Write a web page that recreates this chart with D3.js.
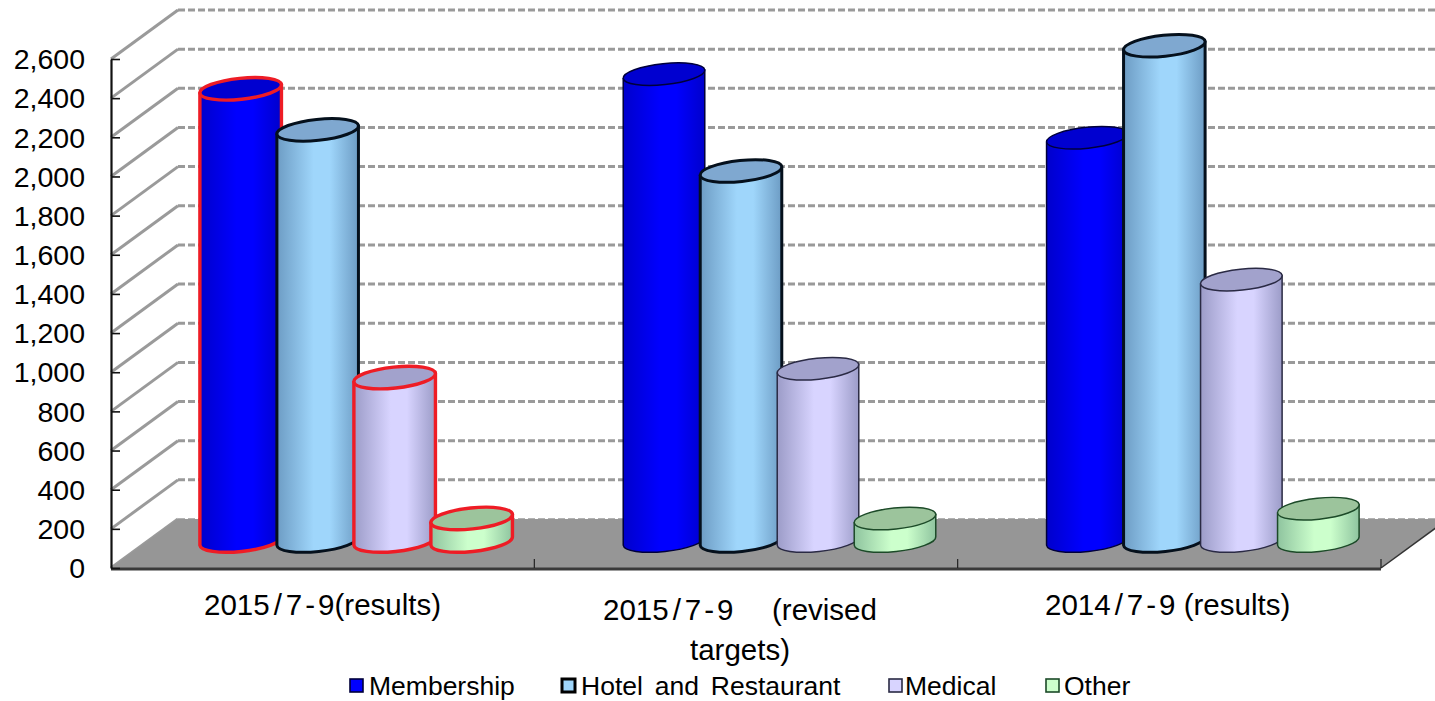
<!DOCTYPE html>
<html>
<head>
<meta charset="utf-8">
<script src="https://cdn.jsdelivr.net/npm/d3@7"></script>
<style>
html,body{margin:0;padding:0;background:#fff;overflow:hidden}
svg{display:block}
text{font-family:"Liberation Sans",Arial,sans-serif;fill:#000}
</style>
</head>
<body>
<div id="chart"></div>
<script>
// Sales by segment, three periods
const categories = ["2015/7-9(results)", "2015/7-9 (revised targets)", "2014/7-9 (results)"];
const seriesNames = ["Membership", "Hotel and Restaurant", "Medical", "Other"];
const membership = [2310, 2385, 2060];
const hotel = [2100, 1890, 2530];
const medical = [835, 880, 1335];
const other = [115, 115, 165];
const yTicks = d3.range(0, 2601, 200);

const seriesValues = [membership, hotel, medical, other];
const centreLight = ["#0000ff", "#9fd6fb", "#d8d4ff", "#ccffcc"];
const edgeDark = ["#0000cc", "#6d9cc4", "#9c9cc8", "#8fc49f"];
const topFill = ["#0000d0", "#7fa8d0", "#a2a2cc", "#9cc49c"];
const outline = ["#00003a", "#05101c", "#2a2a44", "#1c4a28"];
const outlineWidth = [1.5, 3, 1.5, 1.5];
const legendX = [350, 562, 889, 1046];
const legendTextX = [369, 581, 905, 1064];

const W = 1435, H = 701;
const x0 = 111, x1 = 1381, yBase = 568, yTop = 59;
const depthX = 67, depthY = 49;

const svg = d3.select("#chart").append("svg").attr("width", W).attr("height", H);
const y = d3.scaleLinear().domain([0, 2600]).range([yBase, yTop]);
const xGroup = d3.scaleBand().domain(categories).range([x0, x1]);
const xInner = d3.scaleBand().domain(seriesNames).range([-154, 154]);

// Horizontal shading that gives each cylinder its rounded look
const defs = svg.append("defs");
seriesNames.forEach((s, i) => {
  const g = defs.append("linearGradient").attr("id", "cyl" + i);
  g.append("stop").attr("offset", "0%").attr("stop-color", edgeDark[i]);
  g.append("stop").attr("offset", "45%").attr("stop-color", centreLight[i]);
  g.append("stop").attr("offset", "65%").attr("stop-color", centreLight[i]);
  g.append("stop").attr("offset", "100%").attr("stop-color", edgeDark[i]);
});

// Back wall gridlines and the slanted lines on the side wall
const wall = svg.append("g");
yTicks.forEach(t => {
  wall.append("line")
    .attr("x1", x0 + depthX).attr("x2", W)
    .attr("y1", y(t) - depthY).attr("y2", y(t) - depthY)
    .attr("stroke", "#9a9a9a").attr("stroke-width", t === 0 ? 1.5 : 3)
    .attr("stroke-dasharray", "7 3");
  wall.append("line")
    .attr("x1", x0).attr("x2", x0 + depthX)
    .attr("y1", y(t)).attr("y2", y(t) - depthY)
    .attr("stroke", "#9a9a9a").attr("stroke-width", 3);
});

// Floor
svg.append("polygon")
  .attr("points", [[x0, yBase], [x0 + depthX, yBase - depthY], [x1 + depthX, yBase - depthY], [x1, yBase]].join(" "))
  .attr("fill", "#969696");
svg.append("line")
  .attr("x1", x1).attr("y1", yBase).attr("x2", x1 + depthX).attr("y2", yBase - depthY)
  .attr("stroke", "#333").attr("stroke-width", 1.5);
svg.append("line")
  .attr("x1", x0).attr("y1", yBase + 1).attr("x2", x1).attr("y2", yBase + 1)
  .attr("stroke", "#3a3a3a").attr("stroke-width", 3);

// Category separators along the front edge
xGroup.domain().forEach(c => {
  const tx = xGroup(c) + xGroup.bandwidth();
  svg.append("line")
    .attr("x1", tx).attr("x2", tx).attr("y1", yBase).attr("y2", yBase - 9)
    .attr("stroke", "#222").attr("stroke-width", 1.2);
});

// Value axis
const yAxis = d3.axisLeft(y).tickValues(yTicks).tickFormat(d3.format(","))
  .tickSizeInner(-9).tickSizeOuter(0).tickPadding(26);
const axisG = svg.append("g").attr("transform", `translate(${x0},0)`).call(yAxis);
axisG.selectAll("path.domain").attr("stroke", "#111").attr("stroke-width", 2.2);
axisG.selectAll(".tick line").attr("stroke", "#111").attr("stroke-width", 1.6);
axisG.selectAll("text").attr("font-size", 28.5).attr("font-family", '"Liberation Sans",Arial,sans-serif').attr("dy", "0.34em");

// Cylinders: radii and tilt of the elliptical caps
const rx = 41, ry = 10.5, tilt = 6;
const rad = tilt * Math.PI / 180;
const ex = rx * Math.cos(rad), ey = rx * Math.sin(rad);
const floorLift = 27;

categories.forEach((c, ci) => {
  const centre = xGroup(c) + xGroup.bandwidth() / 2 + depthX / 2;
  seriesNames.forEach((s, si) => {
    const v = seriesValues[si][ci];
    const cx = centre + xInner(s) + xInner.bandwidth() / 2;
    const yb = y(0) - floorLift;
    const yt = y(v) - floorLift;
    // the first period's Membership, Medical and Other carry a red highlight
    const hot = ci === 0 && si !== 1;
    const stroke = hot ? "#ee1c25" : outline[si];
    const sw = hot ? 3.4 : outlineWidth[si];
    const g = svg.append("g");
    const body = `M${cx - ex},${yt + ey}L${cx - ex},${yb + ey}`
      + `A${rx},${ry} ${-tilt} 0 0 ${cx + ex},${yb - ey}`
      + `L${cx + ex},${yt - ey}Z`;
    g.append("path").attr("d", body).attr("fill", `url(#cyl${si})`)
      .attr("stroke", stroke).attr("stroke-width", sw).attr("stroke-linejoin", "round");
    g.append("ellipse")
      .attr("cx", cx).attr("cy", yt).attr("rx", rx).attr("ry", ry)
      .attr("transform", `rotate(${-tilt} ${cx} ${yt})`)
      .attr("fill", topFill[si]).attr("stroke", stroke).attr("stroke-width", sw);
  });
});

// Category labels: the date is set loosely around its slash and hyphen
const catFont = 29.5;
function dateLabel(x, yPos, year, rest) {
  const t = svg.append("text").attr("x", x).attr("y", yPos).attr("font-size", catFont);
  [[year, 0], ["/", 4], ["7", 4], ["-", 3], [rest, 3]].forEach(([s, dx]) => {
    t.append("tspan").attr("dx", dx).text(s);
  });
}
dateLabel(204, 615, "2015", "9(results)");
dateLabel(603, 620, "2015", "9");
svg.append("text").attr("x", 772).attr("y", 620).attr("font-size", catFont).text("(revised");
svg.append("text").attr("x", 690).attr("y", 660).attr("font-size", catFont).text("targets)");
dateLabel(1045, 615, "2014", "9 (results)");

// Legend
seriesNames.forEach((s, i) => {
  svg.append("rect").attr("x", legendX[i]).attr("y", 679).attr("width", 13).attr("height", 13)
    .attr("fill", centreLight[i])
    .attr("stroke", i === 1 ? "#000" : outline[i]).attr("stroke-width", i === 1 ? 3 : 1.6);
  svg.append("text").attr("x", legendTextX[i]).attr("y", 695).attr("font-size", 26.5)
    .attr("word-spacing", 4.5).text(s);
});
</script>
</body>
</html>
